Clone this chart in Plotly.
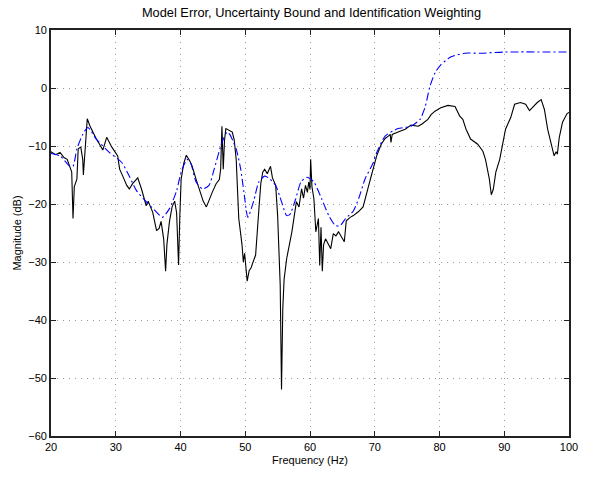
import plotly.graph_objects as go

# Measured model error (dB) versus frequency (Hz)
err_freq = [20.0, 20.7, 21.4, 22.0, 22.5, 22.9, 23.2, 23.4, 23.6, 24.0, 24.2, 24.6, 24.9, 25.0,
            25.3, 25.6, 26.0, 26.5, 27.0, 27.5, 28.0, 28.6, 29.0, 29.4, 30.3, 30.6, 31.2, 31.7,
            32.1, 32.6, 33.4, 34.0, 34.7, 35.0, 35.7, 36.0, 36.3, 36.7, 37.0, 37.4, 37.7, 37.9,
            38.3, 38.7, 39.1, 39.4, 39.7, 39.9, 40.1, 40.5, 40.9, 41.4, 41.8, 42.4, 43.0, 43.5,
            44.0, 44.5, 44.9, 45.5, 46.0, 46.2, 46.4, 46.6, 46.8, 47.0, 47.2, 47.6, 48.0, 48.3,
            48.6, 49.0, 49.3, 49.5, 49.7, 49.9, 50.3, 50.6, 50.9, 51.2, 51.6, 52.1, 52.4, 52.7,
            53.0, 53.4, 53.9, 54.2, 54.7, 55.0, 55.2, 55.4, 55.6, 55.8, 56.0, 56.4, 57.2, 57.9,
            58.3, 58.7, 59.0, 59.3, 59.6, 59.8, 60.0, 60.1, 60.3, 60.6, 60.9, 61.1, 61.3, 61.5,
            61.7, 61.9, 62.1, 62.4, 62.8, 63.2, 63.6, 64.0, 64.4, 64.9, 65.3, 65.6, 66.2, 66.7,
            67.5, 68.2, 68.6, 69.0, 69.5, 70.1, 70.3, 71.0, 71.6, 72.1, 72.4, 72.5, 72.7, 73.6,
            74.7, 75.6, 76.7, 77.3, 77.8, 78.2, 78.7, 79.3, 80.2, 81.3, 82.4, 83.1, 83.6, 84.1,
            84.8, 85.9, 86.7, 87.1, 87.7, 88.0, 88.3, 88.7, 89.3, 90.2, 91.0, 91.6, 92.5, 93.3,
            93.9, 94.3, 95.1, 95.7, 96.2, 96.7, 97.3, 97.7, 98.0, 98.2, 98.5, 99.0, 99.7, 100.0]
err_db = [-11.0, -11.5, -11.1, -12.0, -12.3, -13.5, -14.5, -22.5, -17.0, -15.7, -10.5, -10.2, -12.3, -15.0,
          -9.0, -5.3, -6.5, -7.7, -8.8, -9.7, -10.7, -8.5, -9.5, -10.2, -11.7, -14.0, -15.5, -16.8,
          -17.4, -16.5, -15.5, -17.5, -20.3, -19.5, -21.4, -23.0, -24.6, -24.2, -23.0, -26.0, -31.6, -27.0,
          -23.0, -20.5, -19.5, -21.5, -30.5, -22.0, -15.7, -13.0, -11.6, -12.5, -13.5, -15.7, -18.0, -19.5,
          -20.5, -19.0, -18.0, -16.5, -15.8, -14.0, -6.6, -14.0, -9.0, -7.0, -7.1, -7.3, -7.6, -9.0,
          -12.3, -22.5, -25.0, -27.0, -30.0, -28.5, -33.3, -31.5, -31.0, -30.0, -28.8, -21.0, -16.5, -14.5,
          -14.0, -14.8, -13.5, -15.5, -16.8, -22.0, -28.8, -34.0, -52.0, -38.0, -33.0, -29.4, -24.8, -19.6,
          -20.5, -17.4, -19.0, -16.8, -18.0, -16.2, -17.5, -12.3, -17.0, -19.1, -24.8, -23.5, -22.5, -30.6,
          -24.0, -31.6, -27.0, -26.0, -27.0, -27.7, -25.1, -25.5, -24.8, -25.8, -26.5, -22.9, -22.3, -22.0,
          -21.3, -20.5, -19.0, -17.1, -15.0, -12.8, -11.7, -9.7, -8.7, -8.3, -8.0, -9.4, -8.0, -7.6,
          -7.1, -6.4, -6.6, -6.2, -5.8, -5.4, -4.6, -4.0, -3.4, -3.0, -3.2, -4.8, -5.4, -7.1,
          -8.8, -9.7, -10.9, -12.3, -15.7, -18.4, -17.5, -14.5, -12.3, -7.1, -5.1, -2.8, -2.5, -2.8,
          -3.9, -3.4, -2.5, -2.0, -3.7, -7.1, -10.0, -11.7, -11.0, -11.4, -8.5, -5.9, -4.4, -4.2]

# Uncertainty bound (dB) versus frequency (Hz)
bound_freq = [20.0, 21.4, 22.9, 23.4, 24.0, 24.9, 25.7, 27.0, 29.0, 30.9, 32.1, 33.2, 34.7, 36.3,
              37.2, 38.3, 39.4, 40.1, 41.0, 41.6, 42.4, 43.4, 44.4, 45.2, 46.4, 47.2, 47.6, 48.6,
              49.3, 49.8, 50.4, 51.3, 52.1, 53.0, 53.6, 54.7, 55.6, 56.4, 56.9, 57.8, 58.6, 59.5,
              60.6, 61.8, 62.9, 63.9, 64.6, 65.5, 66.7, 67.5, 68.5, 69.8, 70.1, 71.6, 73.6, 75.6,
              77.0, 77.8, 78.5, 79.3, 80.2, 81.8, 83.9, 86.4, 90.0, 100.0]
bound_db = [-11.3, -11.7, -13.5, -13.5, -10.5, -8.0, -6.8, -8.8, -11.1, -12.8, -15.2, -17.7, -19.6, -21.4,
            -22.3, -20.8, -17.7, -14.5, -12.3, -13.0, -16.2, -17.4, -16.8, -14.0, -9.4, -7.6, -8.0, -10.5,
            -14.0, -18.0, -22.3, -19.5, -16.2, -15.2, -15.5, -16.8, -19.6, -22.0, -21.8, -19.1, -16.2, -15.4,
            -16.2, -19.1, -22.0, -23.7, -23.8, -22.5, -21.2, -19.1, -15.7, -12.8, -11.7, -8.3, -7.0, -6.6,
            -5.4, -3.2, 0.2, 2.6, 4.0, 5.4, 6.0, 6.0, 6.2, 6.2]

x_ticks = [20, 30, 40, 50, 60, 70, 80, 90, 100]
y_ticks = [-60, -50, -40, -30, -20, -10, 0, 10]

fig = go.Figure()
fig.add_trace(go.Scatter(x=err_freq, y=err_db, mode="lines",
                         line=dict(color="black", width=1.1), showlegend=False))
fig.add_trace(go.Scatter(x=bound_freq, y=bound_db, mode="lines",
                         line=dict(color="#0000ff", width=1.1, dash="8px,3px,2px,3px",
                                   shape="spline", smoothing=0.6),
                         showlegend=False))

axis_common = dict(
    showline=True, linecolor="#222222", linewidth=1.6, mirror="ticks",
    ticks="inside", ticklen=5, tickcolor="#222222",
    showgrid=True, gridcolor="#9a9a9a", griddash="1px,5px", gridwidth=1,
    zeroline=False, tickfont=dict(size=11, color="black"),
)

fig.update_layout(
    width=590, height=477,
    margin=dict(l=51, r=18, t=30, b=38),
    paper_bgcolor="white", plot_bgcolor="white",
    font=dict(family="Liberation Sans, Arial, Helvetica, sans-serif", size=11, color="black"),
    title=dict(text="Model Error, Uncertainty Bound and Identification Weighting",
               x=(51 + 572) / 2 / 590, xanchor="center", y=1 - 13 / 477, yanchor="middle",
               font=dict(size=12.8)),
    xaxis=dict(range=[20, 100], tickvals=x_ticks,
               title=dict(text="Frequency (Hz)", standoff=4, font=dict(size=11)), **axis_common),
    yaxis=dict(range=[-60, 10], tickvals=y_ticks,
               title=dict(text="Magnitude (dB)", standoff=4, font=dict(size=11)), **axis_common),
)

fig.write_html("out.html")
